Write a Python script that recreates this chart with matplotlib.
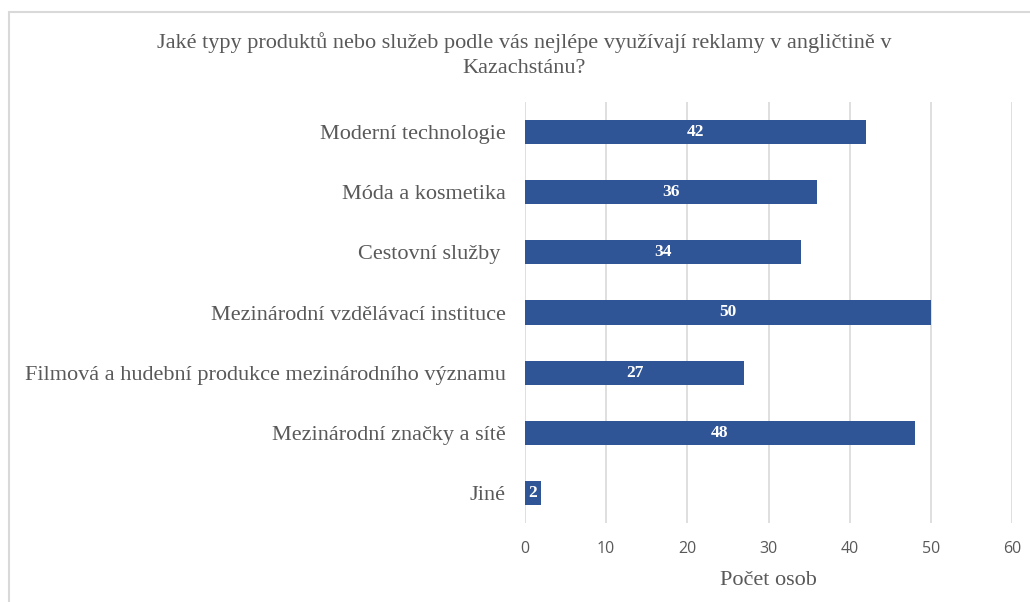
import matplotlib.pyplot as plt
from matplotlib.patches import Rectangle

# data
categories = [
    "Moderní technologie",
    "Móda a kosmetika",
    "Cestovní služby ",
    "Mezinárodní vzdělávací instituce",
    "Filmová a hudební produkce mezinárodního významu",
    "Mezinárodní značky a sítě",
    "Jiné",
]
counts = [42, 36, 34, 50, 27, 48, 2]
x_ticks = [0, 10, 20, 30, 40, 50, 60]

title = "Jaké typy produktů nebo služeb podle vás nejlépe využívají reklamy v angličtině v\nKazachstánu?"
x_label = "Počet osob"

W, H = 1030, 602
fig = plt.figure(figsize=(W / 100, H / 100), dpi=100)

# outer chart border (light grey, cut at right/bottom like the screenshot)
fig.patches.append(Rectangle((8.5 / W, -0.1), 1.2, 1 - 12 / H + 0.1,
                             transform=fig.transFigure, fill=False,
                             edgecolor="#D9D9D9", linewidth=1.5))

# axes placed in pixels: left 525, right 1012, top 102, bottom 523
ax = fig.add_axes([525 / W, 1 - 523 / H, (1012 - 525) / W, (523 - 102) / H])

ypos = list(range(len(categories)))
bars = ax.barh(ypos, counts, height=0.4, color="#2F5597", zorder=3)

for b, v in zip(bars, counts):
    ax.text(b.get_width() / 2, b.get_y() + b.get_height() / 2, str(v),
            ha="center", va="center", color="white", fontweight="bold",
            fontsize=12.5, family="Liberation Serif", zorder=4)

ax.set_ylim(len(categories) - 0.5, -0.5)
ax.set_xlim(0, 60)
ax.set_xticks(x_ticks)
ax.set_xticklabels([str(t) for t in x_ticks], family="Open Sans",
                   fontsize=11.5, color="#595959")
ax.set_yticks(ypos)
ax.set_yticklabels(categories, family="Liberation Serif", fontsize=16, color="#595959")
ax.tick_params(axis="y", length=0, pad=14)
ax.tick_params(axis="x", length=0, pad=13)

ax.grid(axis="x", color="#D9D9D9", linewidth=1.2, zorder=0)
for s in ax.spines.values():
    s.set_visible(False)

ax.set_xlabel(x_label, family="Liberation Serif", fontsize=16, color="#595959", labelpad=10)

fig.text(524 / W, 1 - 55 / H, title, ha="center", va="center",
         family="Liberation Serif", fontsize=16, color="#595959", linespacing=1.48)

fig.savefig("out.png", dpi=100)
